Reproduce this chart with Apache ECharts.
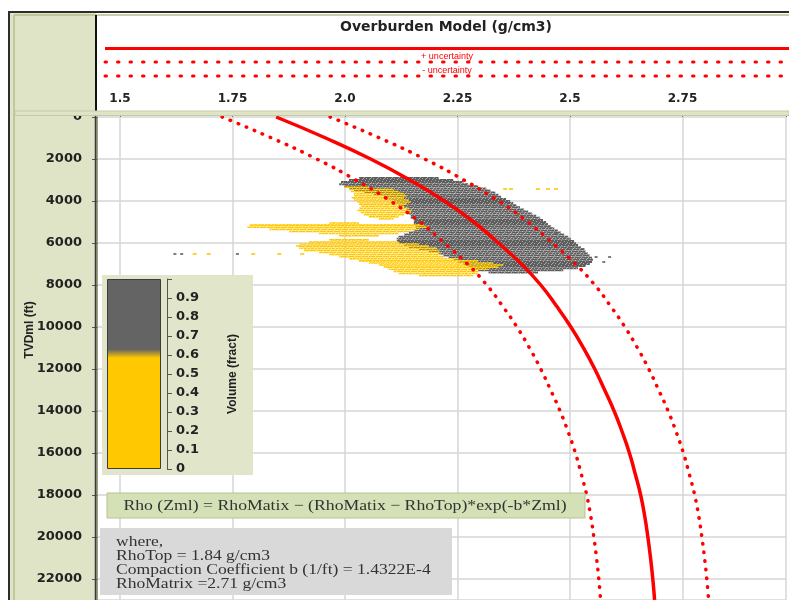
<!DOCTYPE html>
<html>
<head>
<meta charset="utf-8">
<script src="https://cdn.jsdelivr.net/npm/echarts@6/dist/echarts.min.js"></script>
<style>
html, body { margin: 0; padding: 0; background: #fff; }
#chart { width: 789px; height: 600px; }
</style>
</head>
<body>
<div id="chart"></div>
<script>
// depth (ft) vs density (g/cm3)
var depthFt = [0, 1000, 2000, 3000, 4000, 5000, 6000, 7000, 8000, 9000, 10000, 11000,
  12000, 13000, 14000, 15000, 16000, 17000, 18000, 19000, 20000, 21000, 22000, 23000];
var rhoModel = [1.847, 1.957, 2.057, 2.144, 2.221, 2.286, 2.341, 2.392, 2.435, 2.470, 2.502, 2.530,
  2.555, 2.577, 2.598, 2.616, 2.632, 2.645, 2.657, 2.666, 2.673, 2.679, 2.684, 2.688];
var rhoPlus = [1.967, 2.077, 2.177, 2.264, 2.341, 2.406, 2.461, 2.512, 2.555, 2.590, 2.622, 2.650,
  2.675, 2.697, 2.718, 2.736, 2.752, 2.765, 2.777, 2.786, 2.793, 2.799, 2.804, 2.808];
var rhoMinus = [1.727, 1.837, 1.937, 2.024, 2.101, 2.166, 2.221, 2.272, 2.315, 2.350, 2.382, 2.410,
  2.435, 2.457, 2.478, 2.496, 2.512, 2.525, 2.537, 2.546, 2.553, 2.559, 2.564, 2.568];

// log data streaks: [depth, rho from, rho to]
var grayStreaks = [
  [2900, 2.031, 2.208], [3000, 2.009, 2.241], [3100, 1.991, 2.263], [3200, 1.987, 2.274],
  [3300, 1.998, 2.296], [3400, 2.009, 2.314], [3500, 2.020, 2.323], [3600, 2.042, 2.334],
  [3700, 2.064, 2.341], [3800, 2.086, 2.347], [3900, 2.097, 2.358], [4000, 2.108, 2.367],
  [4100, 2.115, 2.374], [4200, 2.119, 2.381], [4300, 2.131, 2.389], [4400, 2.137, 2.398],
  [4500, 2.142, 2.407], [4600, 2.142, 2.416], [4700, 2.146, 2.425], [4800, 2.146, 2.434],
  [4900, 2.153, 2.440], [5000, 2.153, 2.447], [5100, 2.153, 2.451], [5200, 2.157, 2.458],
  [5300, 2.157, 2.465], [5400, 2.153, 2.473], [5500, 2.142, 2.480], [5600, 2.131, 2.487],
  [5700, 2.119, 2.496], [5800, 2.115, 2.502], [5900, 2.115, 2.509], [6000, 2.119, 2.513],
  [6100, 2.131, 2.518], [6200, 2.142, 2.524], [6300, 2.164, 2.531], [6400, 2.186, 2.535],
  [6500, 2.208, 2.540], [6600, 2.219, 2.544], [6700, 2.230, 2.549], [6800, 2.241, 2.551],
  [6900, 2.252, 2.549], [7000, 2.263, 2.544], [7100, 2.274, 2.535], [7200, 2.285, 2.518],
  [7300, 2.296, 2.485], [7400, 2.319, 2.429]
];
var yellowStreaks = [
  [3350, 1.998, 2.053], [3450, 2.009, 2.108], [3550, 2.013, 2.119], [3650, 2.020, 2.131],
  [3750, 2.020, 2.137], [3850, 2.015, 2.131], [3950, 2.020, 2.142], [4050, 2.027, 2.146],
  [4150, 2.031, 2.137], [4250, 2.035, 2.131], [4350, 2.031, 2.142], [4450, 2.027, 2.148],
  [4550, 2.035, 2.146], [4650, 2.042, 2.131], [4750, 2.053, 2.119], [4850, 2.075, 2.108],
  [5050, 1.965, 2.031], [5150, 1.788, 2.175], [5250, 1.783, 2.186], [5350, 1.832, 2.164],
  [5450, 1.876, 2.142], [5550, 1.942, 2.119], [5650, 1.987, 2.075], [5850, 1.965, 2.053],
  [5950, 1.920, 2.119], [6050, 1.898, 2.164], [6150, 1.892, 2.186], [6250, 1.898, 2.204],
  [6350, 1.909, 2.208], [6450, 1.942, 2.212], [6550, 1.965, 2.208], [6650, 1.987, 2.219],
  [6750, 2.009, 2.252], [6850, 2.031, 2.296], [6950, 2.053, 2.330], [7050, 2.075, 2.352],
  [7150, 2.086, 2.341], [7250, 2.097, 2.319], [7350, 2.108, 2.296], [7450, 2.119, 2.296],
  [7550, 2.164, 2.285]
];
// isolated samples: [rho, depth]
var grayDots = [[1.622, 6524], [1.637, 6524], [1.761, 6524], [2.496, 6286], [2.529, 6286],
  [2.558, 6667], [2.588, 6667], [2.540, 6905], [2.575, 6905], [2.469, 5524], [2.385, 4619]];
var yellowDots = [[1.666, 6524], [1.697, 6524], [1.796, 6524], [1.854, 6524], [1.905, 6524],
  [2.356, 3429], [2.369, 3429], [2.429, 3429], [2.451, 3429], [2.469, 3429]];

var xTickLabels = ['1.5', '1.75', '2.0', '2.25', '2.5', '2.75'];
var volTickLabels = ['0', '0.1', '0.2', '0.3', '0.4', '0.5', '0.6', '0.7', '0.8', '0.9', ''];

var GRAY = '#5e5e5e', YELLOW = '#ffc800', RED = '#ff0000', PANEL = '#dfe4c6';
var labelFont = { fontFamily: 'DejaVu Sans', fontWeight: 'bold', fontSize: 13, color: '#222' };
var gridLine = { lineStyle: { color: '#d6d6d6', width: 1.5 } };

// small speckled tile so the streaks look like dense sample dots
function speckle(base, light) {
  var c = document.createElement('canvas');
  c.width = 7; c.height = 5;
  var g = c.getContext('2d');
  g.fillStyle = base; g.fillRect(0, 0, 7, 5);
  g.fillStyle = light;
  [[1, 0], [4, 1], [6, 3], [2, 3], [5, 4], [0, 2]].forEach(function (p) { g.fillRect(p[0], p[1], 1, 1); });
  return { image: c, repeat: 'repeat' };
}

function pairs(xs) {
  return depthFt.map(function (z, i) { return [xs[i], z]; });
}
function streaks(rows) {
  return rows.map(function (r) { return [r[1], r[0], r[2]]; });
}
function streakRender(fill, hFt) {
  return function (params, api) {
    var a = api.coord([api.value(0), api.value(1)]);
    var b = api.coord([api.value(2), api.value(1)]);
    var h = api.size([0, hFt])[1];
    return { type: 'rect', shape: { x: a[0], y: a[1] - h / 2, width: b[0] - a[0], height: h },
      style: { fill: fill } };
  };
}

var chart = echarts.init(document.getElementById('chart'));
chart.setOption({
  animation: false,
  grid: [
    { left: 120, top: 117, width: 669, height: 483 },
    { left: 97, top: 117, width: 23, height: 483 },
    { left: 107, top: 279, width: 54, height: 190 }
  ],
  xAxis: [
    { gridIndex: 0, type: 'value', position: 'top', min: 1.5, max: 2.98, interval: 0.25, offset: 7,
      axisLine: { show: false },
      axisTick: { show: true, length: 4, lineStyle: { color: '#777' } },
      axisLabel: Object.assign({}, labelFont, { margin: 5, fontSize: 12, formatter: function (v) {
        return xTickLabels[Math.round((v - 1.5) / 0.25)] || ''; } }),
      splitLine: Object.assign({ show: true }, gridLine) },
    { gridIndex: 1, type: 'value', show: false, min: 0, max: 1 },
    { gridIndex: 2, type: 'category', data: ['v'], show: false }
  ],
  yAxis: [
    { gridIndex: 0, type: 'value', inverse: true, min: 0, max: 23000, interval: 2000,
      axisLine: { show: false }, axisTick: { show: false }, axisLabel: { show: false },
      splitLine: Object.assign({ show: true }, gridLine) },
    { gridIndex: 1, type: 'value', inverse: true, min: 0, max: 23000, interval: 2000,
      position: 'left', offset: 7,
      axisLine: { show: true, lineStyle: { color: '#7c8062', width: 1.5 } },
      axisTick: { show: true, length: 5, lineStyle: { color: '#555' } },
      axisLabel: Object.assign({}, labelFont, { margin: 8, formatter: function (v) {
        return v % 2000 === 0 ? String(v) : ''; } }),
      splitLine: Object.assign({ show: true }, gridLine) },
    { gridIndex: 2, type: 'value', min: 0, max: 1, interval: 0.1, position: 'right', offset: 6, z: 5,
      axisLine: { show: true, lineStyle: { color: '#555' } },
      axisTick: { show: true, length: 5, lineStyle: { color: '#555' } },
      axisLabel: Object.assign({}, labelFont, { margin: 9, formatter: function (v) {
        return volTickLabels[Math.round(v * 10)]; } }),
      splitLine: { show: false },
      name: 'Volume (fract)', nameLocation: 'middle', nameRotate: 90, nameGap: 60,
      nameTextStyle: { fontFamily: 'Liberation Sans', fontWeight: 'bold', fontSize: 12, color: '#222' } }
  ],
  series: [
    { type: 'custom', name: 'gray', renderItem: streakRender(speckle(GRAY, '#a8a8a8'), 95),
      data: streaks(grayStreaks), encode: { x: [0, 2], y: 1 }, z: 2 },
    { type: 'custom', name: 'yellow', renderItem: streakRender(speckle(YELLOW, '#fde58a'), 75),
      data: streaks(yellowStreaks), encode: { x: [0, 2], y: 1 }, z: 3 },
    { type: 'scatter', data: grayDots, symbol: 'rect', symbolSize: [3, 2], itemStyle: { color: GRAY }, z: 3 },
    { type: 'scatter', data: yellowDots, symbol: 'rect', symbolSize: [4, 2], itemStyle: { color: YELLOW }, z: 3 },
    { type: 'line', name: '- uncertainty', data: pairs(rhoMinus), smooth: true, showSymbol: false, z: 5,
      lineStyle: { color: RED, width: 3.5, type: [0.5, 8.2], cap: 'round' } },
    { type: 'line', name: '+ uncertainty', data: pairs(rhoPlus), smooth: true, showSymbol: false, z: 5,
      lineStyle: { color: RED, width: 3.5, type: [0.5, 8.2], cap: 'round' } },
    { type: 'line', name: 'model', data: pairs(rhoModel), smooth: true, showSymbol: false, z: 6,
      lineStyle: { color: RED, width: 3.5 } },
    { type: 'bar', xAxisIndex: 2, yAxisIndex: 2, data: [1], barWidth: '100%', z: 4,
      itemStyle: { borderColor: '#3c3c3c', borderWidth: 1,
        color: new echarts.graphic.LinearGradient(0, 0, 0, 1, [
          { offset: 0, color: '#646464' }, { offset: 0.37, color: '#646464' },
          { offset: 0.415, color: YELLOW }, { offset: 1, color: YELLOW }]) } }
  ],
  graphic: { elements: [
    { type: 'rect', z: -1, shape: { x: 9, y: 12, width: 87, height: 588 }, style: { fill: PANEL } },
    { type: 'line', z: 50, shape: { x1: 9, y1: 12, x2: 9, y2: 600 }, style: { stroke: '#2d2d2d', lineWidth: 2 } },
    { type: 'line', z: 50, shape: { x1: 8, y1: 12, x2: 789, y2: 12 }, style: { stroke: '#2d2d2d', lineWidth: 2 } },
    { type: 'line', z: 50, shape: { x1: 14, y1: 15, x2: 14, y2: 600 }, style: { stroke: '#b3c18e', lineWidth: 1.5 } },
    { type: 'line', z: 50, shape: { x1: 14, y1: 15, x2: 789, y2: 15 }, style: { stroke: '#b3c18e', lineWidth: 1.5 } },
    { type: 'line', z: 50, shape: { x1: 96, y1: 15, x2: 96, y2: 111 }, style: { stroke: '#111', lineWidth: 2 } },
    { type: 'rect', z: 50, shape: { x: 15, y: 111, width: 774, height: 4.5 },
      style: { fill: PANEL, stroke: '#c3cba4', lineWidth: 1 } },
    { type: 'line', z: 50, shape: { x1: 95.5, y1: 116, x2: 95.5, y2: 600 }, style: { stroke: '#3a3a3a', lineWidth: 1.5 } },
    { type: 'text', z: 50, x: 446, y: 27, style: { text: 'Overburden Model (g/cm3)', align: 'center',
      verticalAlign: 'middle', font: 'bold 14px "DejaVu Sans"', fill: '#222' } },
    { type: 'line', z: 50, shape: { x1: 105, y1: 48.5, x2: 789, y2: 48.5 }, style: { stroke: RED, lineWidth: 3 } },
    { type: 'text', z: 50, x: 447, y: 57, style: { text: '+ uncertainty', align: 'center', verticalAlign: 'middle',
      font: '9px "Liberation Sans"', fill: RED } },
    { type: 'line', z: 50, shape: { x1: 105, y1: 62, x2: 789, y2: 62 },
      style: { stroke: RED, lineWidth: 3, lineDash: [1.5, 11], lineCap: 'round' } },
    { type: 'text', z: 50, x: 447, y: 71, style: { text: '- uncertainty', align: 'center', verticalAlign: 'middle',
      font: '9px "Liberation Sans"', fill: RED } },
    { type: 'line', z: 50, shape: { x1: 105, y1: 76, x2: 789, y2: 76 },
      style: { stroke: RED, lineWidth: 3, lineDash: [1.5, 11], lineCap: 'round' } },
    { type: 'text', z: 50, x: 30, y: 330, rotation: Math.PI / 2, style: { text: 'TVDml (ft)', align: 'center',
      verticalAlign: 'middle', font: 'bold 12px "Liberation Sans"', fill: '#222' } },
    { type: 'rect', z: 1, shape: { x: 102, y: 275, width: 151, height: 200 }, style: { fill: '#e1e6cb' } },
    { type: 'rect', z: 10, shape: { x: 107, y: 493, width: 478, height: 25 },
      style: { fill: '#d4e0b6', stroke: '#b5c495', lineWidth: 1 } },
    { type: 'text', z: 11, x: 345, y: 506, scaleX: 1.18, style: {
      text: 'Rho (Zml) = RhoMatix \u2212 (RhoMatix \u2212 RhoTop)*exp(-b*Zml)',
      align: 'center', verticalAlign: 'middle', font: '15px "Liberation Serif"', fill: '#333' } },
    { type: 'rect', z: 10, shape: { x: 100, y: 528, width: 352, height: 67 }, style: { fill: '#d9d9d9' } },
    { type: 'text', z: 11, x: 116, y: 535, scaleX: 1.17, style: {
      text: 'where,\nRhoTop = 1.84 g/cm3\nCompaction Coefficient b (1/ft) = 1.4322E-4\nRhoMatrix =2.71 g/cm3',
      align: 'left', verticalAlign: 'top', lineHeight: 14, font: '15px "Liberation Serif"', fill: '#333' } }
  ] }
});
</script>
</body>
</html>
